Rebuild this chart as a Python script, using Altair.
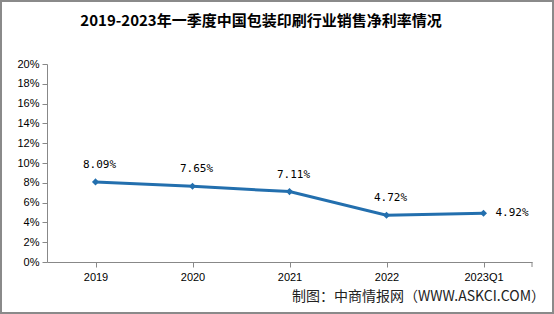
import altair as alt
import pandas as pd

years = ["2019", "2020", "2021", "2022", "2023Q1"]
rates = [8.09, 7.65, 7.11, 4.72, 4.92]
labels = ["8.09%", "7.65%", "7.11%", "4.72%", "4.92%"]
title_text = "2019-2023年一季度中国包装印刷行业销售净利率情况"
source_text = "制图：中商情报网（WWW.ASKCI.COM）"

df = pd.DataFrame({"year": years, "rate": rates, "label": labels})

W, H = 485, 198
line_color = "#236FAE"
axis_color = "#888888"

x = alt.X("year:N", sort=years, title=None,
          scale=alt.Scale(paddingInner=0, paddingOuter=0),
          axis=alt.Axis(labelAngle=0, bandPosition=0, domainColor=axis_color,
                        tickColor=axis_color, tickSize=5, labelFontSize=11,
                        labelColor="#000000", labelPadding=4, labelFont="Liberation Sans"))
y = alt.Y("rate:Q", title=None,
          scale=alt.Scale(domain=[0, 20]),
          axis=alt.Axis(values=list(range(0, 21, 2)), labelExpr="datum.value + '%'",
                        grid=False, domainColor=axis_color, tickColor=axis_color,
                        tickSize=5, labelFontSize=11, labelColor="#000000",
                        labelPadding=3, labelFont="Liberation Sans"))

base = alt.Chart(df)

line = base.mark_line(color=line_color, strokeWidth=3).encode(x=x, y=y)
pts = base.mark_point(shape="diamond", filled=True, color=line_color, size=50, opacity=1).encode(x=x, y=y)

lab_top = base.transform_filter(alt.datum.year != "2023Q1").mark_text(
    font="DejaVu Sans Mono", fontSize=11, dy=-17, dx=4, color="#000000"
).encode(x=x, y=y, text="label:N")
lab_right = base.transform_filter(alt.datum.year == "2023Q1").mark_text(
    font="DejaVu Sans Mono", fontSize=11, dx=12, align="left", color="#000000"
).encode(x=x, y=y, text="label:N")

title = alt.Chart(pd.DataFrame({"t": [title_text]})).mark_text(
    font="Noto Sans CJK SC", fontWeight="bold", fontSize=15, color="#000000"
).encode(x=alt.value(261 - 47), y=alt.value(21 - 64), text="t:N")

source = alt.Chart(pd.DataFrame({"t": [source_text]})).mark_text(
    font="Noto Sans CJK SC", fontSize=14, align="right", color="#222222"
).encode(x=alt.value(545 - 47), y=alt.value(297 - 64), text="t:N")

end_tick = alt.Chart(pd.DataFrame({"a": [0]})).mark_rule(color=axis_color, strokeWidth=1).encode(
    x=alt.value(W), y=alt.value(H), y2=alt.value(H + 5))

frame = alt.Chart(pd.DataFrame({"a": [0]})).mark_rect(
    fill=None, stroke="#8a8a8a", strokeWidth=2
).encode(x=alt.value(-46), x2=alt.value(554 - 47 - 1), y=alt.value(-63), y2=alt.value(314 - 64 - 1))

chart = alt.layer(frame, line, pts, lab_top, lab_right, title, source, end_tick).properties(
    width=W, height=H,
    autosize=alt.AutoSizeParams(type="none"),
    padding={"left": 47, "top": 64, "right": 22, "bottom": 52},
    background="#ffffff",
).configure_view(stroke=None)

chart.save("out.html", embed_options={"renderer": "svg", "actions": False})
